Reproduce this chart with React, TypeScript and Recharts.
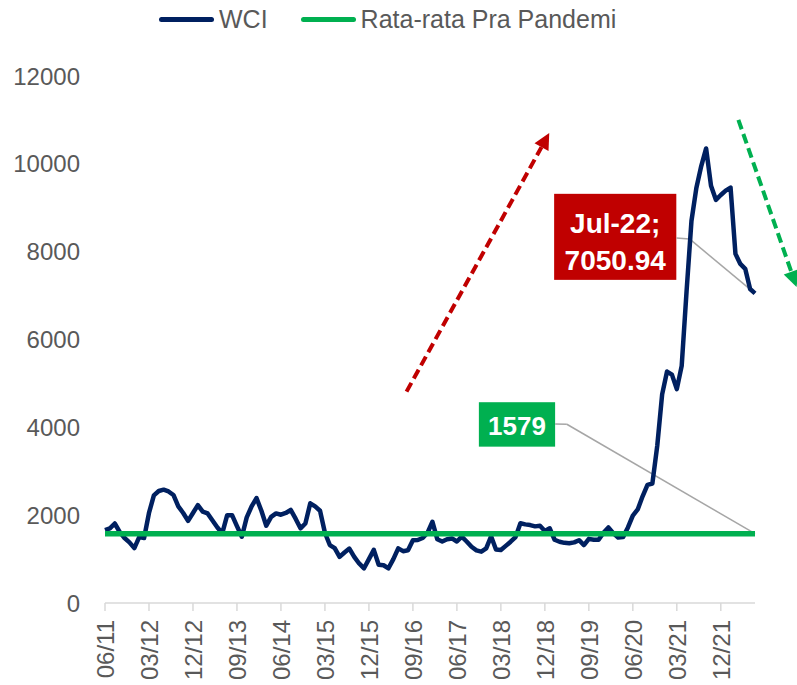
import React from "react";
import { LineChart, Line, XAxis, YAxis, Legend, ReferenceLine, ReferenceArea } from "recharts";

// monthly WCI, 06/2011 .. 07/2022
const wci = [
  1660, 1700, 1810, 1620, 1480, 1380, 1250, 1500, 1480, 2050,
  2450, 2550, 2580, 2540, 2460, 2200, 2050, 1870, 2050, 2230,
  2080, 2040, 1880, 1720, 1590, 2000, 2000, 1750, 1510, 1950,
  2200, 2390, 2100, 1760, 1960, 2040, 2010, 2050, 2120, 1920,
  1700, 1810, 2270, 2200, 2100, 1600, 1320, 1250, 1050, 1150,
  1240, 1050, 900, 790, 1000, 1210, 870, 860, 790, 1000,
  1245, 1180, 1200, 1430, 1435, 1480, 1600, 1850, 1450, 1400,
  1450, 1470, 1400, 1510, 1400, 1280, 1200, 1170, 1245, 1520,
  1220, 1205, 1300, 1395, 1500, 1815, 1790, 1775, 1745, 1760,
  1640, 1700, 1440, 1395, 1370, 1360, 1380, 1430, 1320, 1460,
  1440, 1440, 1600, 1720, 1590, 1490, 1500, 1720, 1990, 2130,
  2430, 2690, 2720, 3580, 4750, 5270, 5200, 4870, 5400, 7100,
  8700, 9450, 9950, 10350, 9500, 9180, 9290, 9390, 9460, 7950,
  7720, 7610, 7150, 7050.94,
];
const preAvg = 1579;
const startYear = 2011;
const startMonth = 6;
const yTicks = [0, 2000, 4000, 6000, 8000, 10000, 12000];
const xTicks = [0, 9, 18, 27, 36, 45, 54, 63, 72, 81, 90, 99, 108, 117, 126];

const months = wci.map((_, i) => {
  const n = startMonth - 1 + i;
  const m = (n % 12) + 1;
  const y = (startYear + Math.floor(n / 12)) % 100;
  return `${String(m).padStart(2, "0")}/${String(y).padStart(2, "0")}`;
});

const data = wci.map((v, i) => ({ i, month: months[i], wci: v, avg: preAvg }));

const last = wci.length - 1;
const lastLabel = ["Jul-22;", String(wci[last])];

const NAVY = "#002060";
const GREEN = "#00B050";
const RED = "#C00000";
const GREY = "#595959";
const FONT = "'Liberation Sans', Arial, sans-serif";

function XTick({ x, y, payload }: any) {
  return (
    <text
      x={x}
      y={y}
      transform={`rotate(-90, ${x}, ${y})`}
      textAnchor="end"
      dy="0.38em"
      fill={GREY}
      fontSize={24}
    >
      {months[payload.value]}
    </text>
  );
}

function arrow(color: string) {
  return (p: any) => {
    const { x1, y1, x2, y2 } = p;
    const dx = x2 - x1;
    const dy = y2 - y1;
    const len = Math.hypot(dx, dy);
    const ux = dx / len;
    const uy = dy / len;
    const head = 16;
    const half = 8;
    const bx = x2 - ux * head;
    const by = y2 - uy * head;
    return (
      <g>
        <line x1={x1} y1={y1} x2={bx} y2={by} stroke={color} strokeWidth={4} strokeDasharray="10 5" />
        <polygon
          points={`${x2},${y2} ${bx - uy * half},${by + ux * half} ${bx + uy * half},${by - ux * half}`}
          fill={color}
        />
      </g>
    );
  };
}

function box(color: string, lines: string[], fontSize: number, baselines: number[]) {
  return (p: any) => {
    const { x, y, width, height } = p;
    const cx = x + width / 2;
    const cy = y + height / 2;
    return (
      <g>
        <rect x={x} y={y} width={width} height={height} fill={color} />
        {lines.map((t, k) => (
          <text key={k} x={cx} y={cy + baselines[k]} textAnchor="middle" fill="#fff" fontWeight="bold" fontSize={fontSize}>
            {t}
          </text>
        ))}
      </g>
    );
  };
}

function LegendContent() {
  const item = (color: string, label: string) => (
    <div style={{ display: "flex", alignItems: "center" }}>
      <div style={{ width: 55, height: 5, borderRadius: 3, background: color }} />
      <span style={{ marginLeft: 5, color: GREY, fontSize: 25 }}>{label}</span>
    </div>
  );
  return (
    <div style={{ display: "flex", alignItems: "center", gap: 33, fontFamily: FONT }}>
      {item(NAVY, "WCI")}
      {item(GREEN, "Rata-rata Pra Pandemi")}
    </div>
  );
}

export default function App() {
  return (
    <div style={{ position: "absolute", left: 0, top: 0, width: 797, height: 685, fontFamily: FONT, background: "#fff" }}>
      <LineChart width={797} height={685} data={data} margin={{ top: 48, right: 42, bottom: 0, left: 0 }}>
        <Legend
          verticalAlign="top"
          content={<LegendContent />}
          wrapperStyle={{ left: 159, top: 5, width: "auto", height: 28 }}
        />
        <XAxis
          type="number"
          dataKey="i"
          domain={[0, last]}
          ticks={xTicks}
          interval={0}
          height={82}
          tickSize={8}
          tickMargin={9}
          axisLine={{ stroke: "#D9D9D9", strokeWidth: 1.5 }}
          tickLine={{ stroke: "#D9D9D9", strokeWidth: 1.5 }}
          tick={<XTick />}
        />
        <YAxis
          width={105}
          domain={[0, 12000]}
          ticks={yTicks}
          axisLine={false}
          tickLine={false}
          tickSize={0}
          tickMargin={25}
          tick={{ fill: GREY, fontSize: 24 }}
        />
        <ReferenceLine segment={[{ x: 116.9, y: 8311 }, { x: 119.6, y: 8290 }]} stroke="#A6A6A6" strokeWidth={1.5} />
        <ReferenceLine segment={[{ x: 119.6, y: 8290 }, { x: last, y: wci[last] }]} stroke="#A6A6A6" strokeWidth={1.5} />
        <ReferenceLine segment={[{ x: 92.1, y: 4076 }, { x: 94.5, y: 4070 }]} stroke="#A6A6A6" strokeWidth={1.5} />
        <ReferenceLine segment={[{ x: 94.5, y: 4070 }, { x: last, y: preAvg }]} stroke="#A6A6A6" strokeWidth={1.5} />
        <Line
          dataKey="wci"
          name="WCI"
          type="linear"
          stroke={NAVY}
          strokeWidth={4.5}
          strokeLinejoin="round"
          dot={false}
          isAnimationActive={false}
        />
        <Line
          dataKey="avg"
          name="Rata-rata Pra Pandemi"
          type="linear"
          stroke={GREEN}
          strokeWidth={5.5}
          dot={false}
          isAnimationActive={false}
        />
        <ReferenceLine
          segment={[{ x: 61.7, y: 4813 }, { x: 90.9, y: 10700 }]}
          ifOverflow="visible"
          shape={arrow(RED)}
        />
        <ReferenceLine
          segment={[{ x: 129.6, y: 11002 }, { x: 141.5, y: 7198 }]}
          ifOverflow="visible"
          shape={arrow(GREEN)}
        />
        <ReferenceArea x1={91.9} x2={116.9} y1={7358} y2={9317} shape={box(RED, lastLabel, 28, [-4, 33])} />
        <ReferenceArea x1={76.5} x2={92.1} y1={3560} y2={4572} shape={box(GREEN, [String(preAvg)], 26, [10.5])} />
      </LineChart>
    </div>
  );
}
